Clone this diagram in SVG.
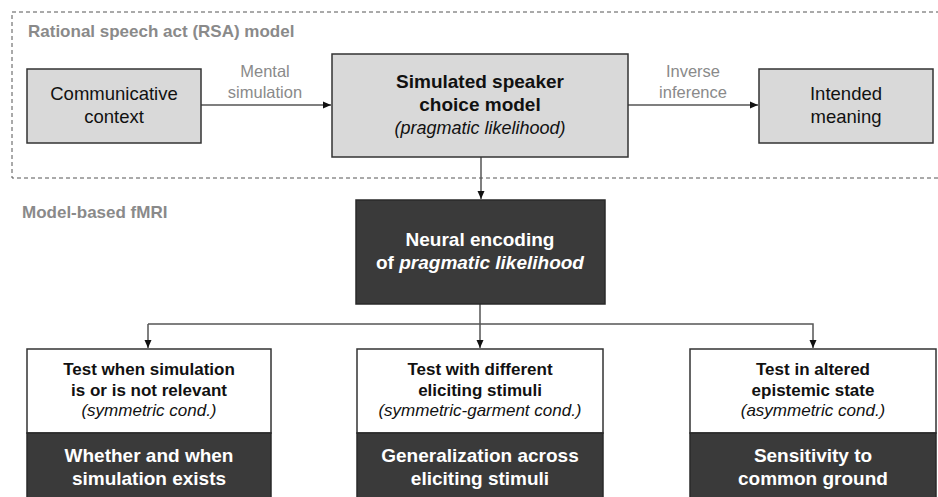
<svg xmlns="http://www.w3.org/2000/svg" width="938" height="497" viewBox="0 0 938 497">
<defs>
<marker id="ah" viewBox="0 0 8 8" refX="8" refY="4" markerWidth="8" markerHeight="8" markerUnits="userSpaceOnUse" orient="auto">
<path d="M0,0.5 L8,4 L0,7.5 Z" fill="#111"/>
</marker>
<style>
text{font-family:"Liberation Sans",Arial,Helvetica,sans-serif;text-anchor:middle}
.sec{font-weight:bold;fill:#8a8a8a;font-size:17px;text-anchor:start}
.lbl{fill:#8a8a8a;font-size:16.5px}
.light{fill:#d9d9d9;stroke:#333;stroke-width:1.5}
.dark{fill:#3a3a3a;stroke:#2a2a2a;stroke-width:1.5}
.white{fill:#fff;stroke:#333;stroke-width:1.5}
.t18{font-size:18.5px;fill:#111}
.b19{font-size:19px;font-weight:bold;fill:#111}
.b19w{font-size:19px;font-weight:bold;fill:#fff}
.i18{font-size:18px;font-style:italic;fill:#111}
.b17{font-size:17px;font-weight:bold;fill:#111}
.i17{font-size:17px;font-style:italic;fill:#111}
.conn{fill:none;stroke:#555;stroke-width:1.5}
</style>
</defs>
<rect x="12" y="12" width="940" height="166" fill="none" stroke="#555" stroke-width="1" stroke-dasharray="4,3"/>
<text class="sec" x="28" y="37">Rational speech act (RSA) model</text>
<text class="sec" x="22" y="218">Model-based fMRI</text>
<g id="connectors">
<line class="conn" x1="201" y1="105" x2="331" y2="105" stroke="#111" marker-end="url(#ah)"/>
<line class="conn" x1="628" y1="105" x2="758" y2="105" stroke="#111" marker-end="url(#ah)"/>
<line class="conn" x1="481" y1="157" x2="481" y2="199" marker-end="url(#ah)"/>
<line class="conn" x1="480" y1="304" x2="480" y2="348" marker-end="url(#ah)"/>
<polyline class="conn" points="148,324 813,324 813,348" marker-end="url(#ah)"/>
<line class="conn" x1="148" y1="324" x2="148" y2="348" marker-end="url(#ah)"/>
<text class="lbl" x="265" y="77">Mental</text>
<text class="lbl" x="265" y="98">simulation</text>
<text class="lbl" x="693" y="77">Inverse</text>
<text class="lbl" x="693" y="98">inference</text>
</g>
<g id="context">
<rect class="light" x="27" y="69" width="174" height="74"/>
<text class="t18" x="114" y="100">Communicative</text>
<text class="t18" x="114" y="123">context</text>
</g>
<g id="speaker">
<rect class="light" x="332" y="54" width="296" height="103"/>
<text class="b19" x="480" y="88">Simulated speaker</text>
<text class="b19" x="480" y="111">choice model</text>
<text class="i18" x="480" y="134">(pragmatic likelihood)</text>
</g>
<g id="meaning">
<rect class="light" x="759" y="69" width="174" height="74"/>
<text class="t18" x="846" y="100">Intended</text>
<text class="t18" x="846" y="123">meaning</text>
</g>
<g id="neural">
<rect class="dark" x="356" y="200" width="249" height="104"/>
<text class="b19w" x="480" y="246">Neural encoding</text>
<text class="b19w" x="480" y="269">of <tspan font-style="italic">pragmatic likelihood</tspan></text>
</g>
<g id="test1">
<rect class="white" x="27" y="349" width="244" height="84"/>
<rect class="dark" x="27" y="433" width="244" height="70"/>
<text class="b17" x="149" y="375">Test when simulation</text>
<text class="b17" x="149" y="396">is or is not relevant</text>
<text class="i17" x="149" y="416">(symmetric cond.)</text>
<text class="b19w" x="149" y="462">Whether and when</text>
<text class="b19w" x="149" y="485">simulation exists</text>
</g>
<g id="test2">
<rect class="white" x="357" y="349" width="246" height="84"/>
<rect class="dark" x="357" y="433" width="246" height="70"/>
<text class="b17" x="480" y="375">Test with different</text>
<text class="b17" x="480" y="396">eliciting stimuli</text>
<text class="i17" x="480" y="416">(symmetric-garment cond.)</text>
<text class="b19w" x="480" y="462">Generalization across</text>
<text class="b19w" x="480" y="485">eliciting stimuli</text>
</g>
<g id="test3">
<rect class="white" x="690" y="349" width="246" height="84"/>
<rect class="dark" x="690" y="433" width="246" height="70"/>
<text class="b17" x="813" y="375">Test in altered</text>
<text class="b17" x="813" y="396">epistemic state</text>
<text class="i17" x="813" y="416">(asymmetric cond.)</text>
<text class="b19w" x="813" y="462">Sensitivity to</text>
<text class="b19w" x="813" y="485">common ground</text>
</g>
</svg>
